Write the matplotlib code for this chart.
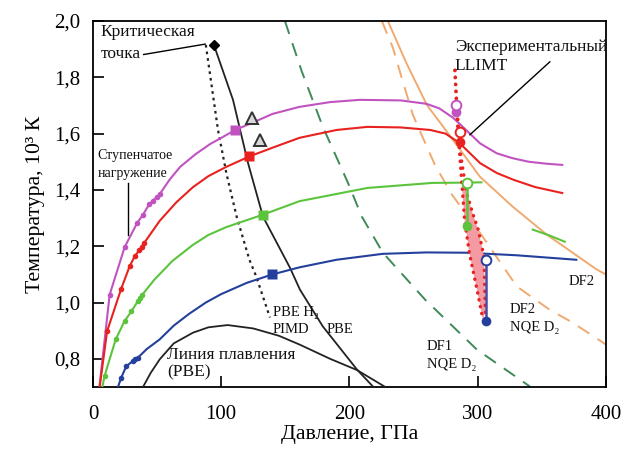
import matplotlib
matplotlib.use("Agg")
import matplotlib.pyplot as plt
import numpy as np

plt.rcParams['font.family'] = ['Liberation Serif', 'DejaVu Serif']

# ---- axes ticks -------------------------------------------------------------
x_ticks = [0, 100, 200, 300, 400]
x_tick_labels = ["0", "100", "200", "300", "400"]
y_ticks = [0.8, 1.0, 1.2, 1.4, 1.6, 1.8, 2.0]
y_tick_labels = ["0,8", "1,0", "1,2", "1,4", "1,6", "1,8", "2,0"]

# ---- step-compression paths (P in GPa, T in 10^3 K) -------------------------
mag_p = [5, 13, 24.7, 34.5, 39, 44, 52, 60, 68, 80, 91, 111, 124, 140, 161, 185,
         208, 240, 260, 270, 281, 294, 302, 315, 327, 340, 354, 366]
mag_t = [0.70, 1.028, 1.197, 1.283, 1.312, 1.35, 1.385, 1.438, 1.482, 1.527, 1.562,
         1.613, 1.638, 1.67, 1.695, 1.712, 1.72, 1.718, 1.706, 1.69, 1.656, 1.60,
         1.565, 1.53, 1.513, 1.50, 1.493, 1.489]
mag_dot_p = [13, 24.7, 34.5, 39, 44, 47, 50, 52]
mag_dot_t = [1.028, 1.197, 1.283, 1.312, 1.35, 1.362, 1.375, 1.385]

red_p = [5.2, 11, 22, 28.6, 32.5, 36, 39, 42, 52, 65, 78, 90, 104, 122, 140, 161,
         190, 214, 240, 263, 275, 286, 302, 315, 328, 345, 366]
red_t = [0.70, 0.898, 1.049, 1.129, 1.164, 1.185, 1.206, 1.225, 1.29, 1.356, 1.41,
         1.449, 1.482, 1.519, 1.55, 1.585, 1.613, 1.624, 1.622, 1.613, 1.60, 1.566,
         1.495, 1.46, 1.436, 1.41, 1.389]
red_dot_p = [11, 22, 28.6, 32.5, 36, 38, 40]
red_dot_t = [0.898, 1.049, 1.129, 1.164, 1.185, 1.197, 1.21]

grn_p = [7.3, 9, 17.7, 24.6, 30, 35, 37, 38.5, 48, 62, 78, 90, 104, 132.5, 161, 214,
         265, 291.6, 303]
grn_t = [0.70, 0.739, 0.869, 0.934, 0.969, 1.005, 1.017, 1.028, 1.082, 1.148, 1.205,
         1.24, 1.268, 1.312, 1.36, 1.407, 1.425, 1.426, 1.427]
grn_dot_p = [9, 17.7, 24.6, 30, 35, 36.5, 38.5]
grn_dot_t = [0.739, 0.869, 0.934, 0.969, 1.005, 1.015, 1.028]
grn_tail_p = [343, 355, 368]
grn_tail_t = [1.259, 1.24, 1.216]

blu_p = [19.5, 22, 26, 31, 33, 35, 42, 52, 63, 75, 88, 100, 120, 140, 161, 190, 226,
         260, 291, 330, 377]
blu_t = [0.70, 0.733, 0.774, 0.792, 0.80, 0.804, 0.835, 0.869, 0.918, 0.96, 1.0,
         1.03, 1.07, 1.10, 1.125, 1.152, 1.173, 1.178, 1.177, 1.168, 1.152]
blu_dot_p = [22, 26, 31, 33, 35]
blu_dot_t = [0.733, 0.774, 0.792, 0.80, 0.804]

# squares where the paths cross the PBE transition line
sq_p = [111, 122, 132.5, 140]
sq_t = [1.613, 1.519, 1.312, 1.10]

# ---- theory lines -------------------------------------------------------------
pbe_p = [94.3, 109.2, 120.9, 132.6, 153.6, 161.4, 179.3, 205.9, 218.3]
pbe_t = [1.915, 1.720, 1.496, 1.305, 1.124, 1.046, 0.915, 0.762, 0.702]

pimd_p = [88, 97.5, 104, 112, 122, 127.3, 138]
pimd_t = [1.915, 1.613, 1.46, 1.306, 1.152, 1.093, 0.947]

melt_p = [39, 45, 52, 63, 78, 90, 105, 125, 145, 161, 185, 206, 228]
melt_t = [0.70, 0.75, 0.798, 0.855, 0.893, 0.912, 0.92, 0.908, 0.882, 0.851, 0.80,
          0.76, 0.70]

df1_p = [149.7, 163, 179.3, 198.8, 209.7, 226.1, 258.9, 299.4, 340.7]
df1_t = [2.0, 1.819, 1.624, 1.426, 1.305, 1.177, 1.011, 0.833, 0.702]

df2_p = [230, 244, 260.4, 276, 301.8, 327.5, 354, 393, 400]
df2_t = [2.0, 1.855, 1.702, 1.607, 1.447, 1.34, 1.241, 1.117, 1.10]

df2nqe_p = [225.3, 234, 241.7, 249.5, 257.3, 266.7, 280, 301.8, 330.6, 356, 374, 400]
df2nqe_t = [2.0, 1.904, 1.784, 1.667, 1.585, 1.489, 1.383, 1.248, 1.057, 0.975,
            0.929, 0.851]

# ---- experimental LLIMT band -------------------------------------------------
llimt_left_p = [282.3, 283.5, 284.6, 287.5, 289.8, 293.5, 300.0, 304.1]
llimt_left_t = [1.825, 1.70, 1.613, 1.436, 1.294, 1.177, 1.035, 0.94]
llimt_right_p = [282.3, 284, 286.2, 291.2, 296.0, 300.5, 305.0, 306.0]
llimt_right_t = [1.825, 1.69, 1.543, 1.394, 1.319, 1.259, 1.163, 0.965]

# open = onset of reflectivity, filled = end point
open_p = [283, 286, 291.6, 306.4]
open_t = [1.702, 1.606, 1.426, 1.152]
fill_p = [283, 286, 291.6, 306.4]
fill_t = [1.677, 1.571, 1.273, 0.933]

tri_p = [124, 130]
tri_t = [1.656, 1.578]

crit_p = [94.3]
crit_t = [1.915]

C_MAG = '#c053c0'
C_RED = '#e8221e'
C_GRN = '#5cc43c'
C_BLU = '#24409c'
C_ORG = '#f0aa70'
C_DGR = '#3f8a58'
C_PINK = '#f49aa2'
path_colors = [C_MAG, C_RED, C_GRN, C_BLU]

fig = plt.figure(figsize=(6.22, 4.5), dpi=100)
ax = fig.add_axes([0.1495, 0.14, 0.8245, 0.8133])

# theory lines
ax.plot(df1_p, df1_t, color=C_DGR, lw=1.4, dashes=(7, 5), zorder=2)
ax.plot(df2_p, df2_t, color=C_ORG, lw=1.4, zorder=2)
ax.plot(df2nqe_p, df2nqe_t, color=C_ORG, lw=1.4, dashes=(7, 5), zorder=2)
ax.plot(pbe_p, pbe_t, color='#222222', lw=1.3, zorder=3)
ax.plot(pimd_p, pimd_t, color='#222222', lw=1.6, ls=(0, (1.2, 1.8)), zorder=3)
ax.plot(melt_p, melt_t, color='#222222', lw=1.3, zorder=3)

# step-compression paths
for p, t, c in [(mag_p, mag_t, C_MAG), (red_p, red_t, C_RED),
                (grn_p, grn_t, C_GRN), (blu_p, blu_t, C_BLU)]:
    ax.plot(p, t, color=c, lw=1.5, zorder=4)
ax.plot(grn_tail_p, grn_tail_t, color=C_GRN, lw=1.5, zorder=4)
for p, t, c in [(mag_dot_p, mag_dot_t, C_MAG), (red_dot_p, red_dot_t, C_RED),
                (grn_dot_p, grn_dot_t, C_GRN), (blu_dot_p, blu_dot_t, C_BLU)]:
    ax.plot(p, t, 'o', color=c, ms=4, mec='none', zorder=5)
for p, t, c in zip(sq_p, sq_t, path_colors):
    ax.plot(p, t, 's', color=c, ms=7.5, mec='none', zorder=6)

# experimental band
band_p = [p for p, t in zip(llimt_left_p, llimt_left_t) if t <= 1.44] + \
         [p for p, t in zip(llimt_right_p, llimt_right_t) if t <= 1.40][::-1]
band_t = [t for t in llimt_left_t if t <= 1.44] + \
         [t for t in llimt_right_t if t <= 1.40][::-1]
ax.fill(band_p, band_t, color=C_PINK, lw=0, zorder=4.5)
for p, t in [(llimt_left_p, llimt_left_t), (llimt_right_p, llimt_right_t)]:
    ax.plot(p, t, color=C_RED, lw=2.4, ls=(0, (0.1, 2.0)),
            dash_capstyle='round', zorder=6)

# vertical connectors and circles
conn_colors = [C_MAG, C_RED, C_GRN, '#4a4aa8']
for po, to, pf, tf, c in zip(open_p, open_t, fill_p, fill_t, conn_colors):
    ax.plot([po, pf], [to, tf], color=c, lw=1.8, zorder=6.5)
for po, to, pf, tf, c in zip(open_p, open_t, fill_p, fill_t, path_colors):
    ax.plot(pf, tf, 'o', color=c, ms=7, mec='none', zorder=7)
    ax.plot(po, to, 'o', mfc='white', mec=c, mew=1.4, ms=7, zorder=7)

ax.plot(tri_p, tri_t, '^', mfc='#d8d8d8', mec='#333333', mew=1.4, ms=8, ls='none', zorder=6)
ax.plot(crit_p, crit_t, 'D', color='black', ms=5, zorder=7)

# annotations
txt = dict(color='#111111', va='center', ha='left', zorder=8)
ax.text(6.2, 1.961, "Критическая", fontsize=12.5, **txt)
ax.text(6.2, 1.883, "точка", fontsize=12.5, **txt)
ax.plot([39.5, 87.5], [1.881, 1.918], color='black', lw=1.0, zorder=8)
ax.text(3.5, 1.521, "Ступенчатое", fontsize=10, **txt)
ax.text(3.5, 1.457, "нагружение", fontsize=10, **txt)
ax.plot([27.3, 27.3], [1.424, 1.241], color='black', lw=1.0, zorder=8)
ax.text(140.4, 0.965, "PBE H₂", fontsize=10.5, **txt)
ax.text(140.4, 0.904, "PIMD", fontsize=10.5, **txt)
ax.text(182.5, 0.904, "PBE", fontsize=10.5, **txt)
ax.text(57.7, 0.812, "Линия плавления", fontsize=12.5, **txt)
ax.text(57.7, 0.752, "(PBE)", fontsize=12.5, **txt)
ax.text(260.4, 0.844, "DF1", fontsize=10.5, **txt)
ax.text(260.4, 0.780, "NQE D₂", fontsize=10.5, **txt)
ax.text(325.1, 0.975, "DF2", fontsize=10.5, **txt)
ax.text(325.1, 0.911, "NQE D₂", fontsize=10.5, **txt)
ax.text(371.2, 1.074, "DF2", fontsize=10.5, **txt)
ax.text(282.3, 1.908, "Экспериментальный", fontsize=12.5, **txt)
ax.text(282.3, 1.840, "LLIMT", fontsize=12.5, **txt)
ax.plot([356.3, 294], [1.855, 1.596], color='black', lw=1.0, zorder=8)

ax.set_xlim(0, 400)
ax.set_ylim(0.7, 2.0)
ax.set_xticks(x_ticks)
ax.set_xticklabels(x_tick_labels)
ax.set_yticks(y_ticks)
ax.set_yticklabels(y_tick_labels)
ax.tick_params(direction='in', length=8, width=1.2, labelsize=15)
ax.tick_params(axis='x', pad=13)
ax.tick_params(axis='y', pad=9)
for s in ax.spines.values():
    s.set_linewidth(1.3)
ax.set_xlabel("Давление, ГПа", fontsize=15.7, labelpad=1)
ax.set_ylabel("Температура, 10³ К", fontsize=15.7, labelpad=7)

fig.savefig("out.png", dpi=100)
